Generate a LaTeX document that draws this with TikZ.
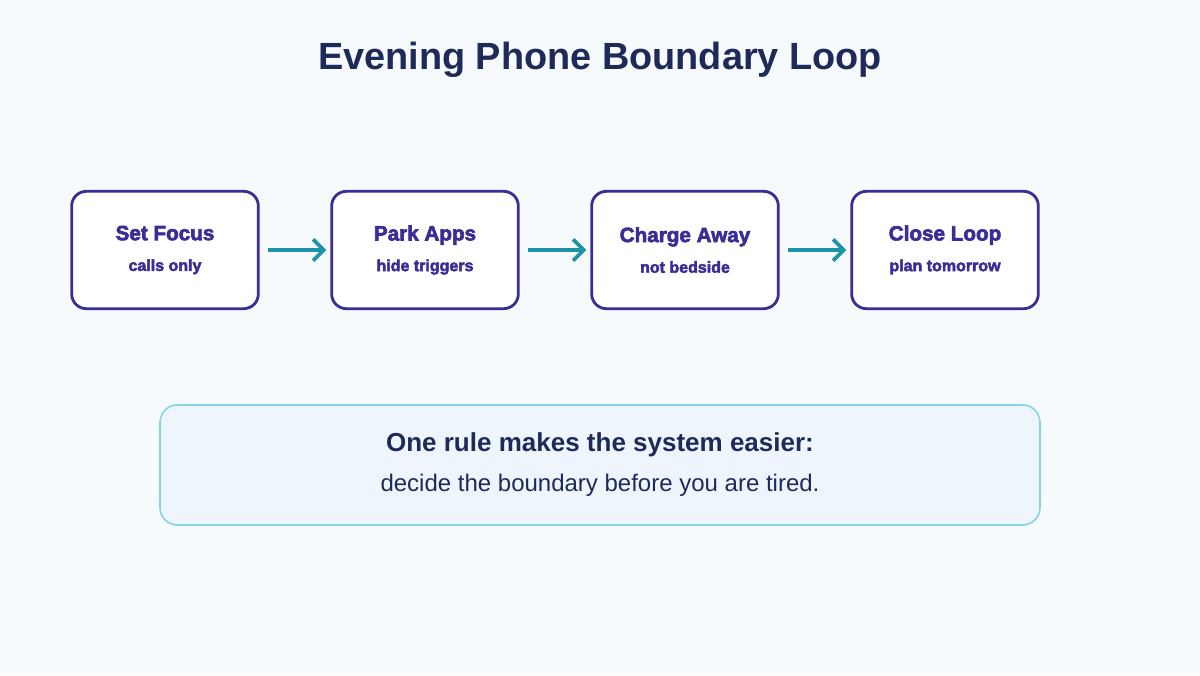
\documentclass[tikz,border=0pt]{standalone}
\usepackage{fontspec}
\setmainfont{Liberation Sans}
\newfontfamily\heavy{Liberation Sans}[BoldFeatures={FakeBold=3}]
\usetikzlibrary{arrows.meta}
\definecolor{bg}{HTML}{F6FAFD}
\definecolor{ttl}{HTML}{1E2A5A}
\definecolor{ind}{HTML}{3A2E96}
\definecolor{teal}{HTML}{1C93A6}
\definecolor{nfill}{HTML}{EEF5FD}
\definecolor{nbord}{HTML}{86D4E3}
\begin{document}
\begin{tikzpicture}[x=0.75pt,y=-0.75pt,
  stepbox/.style={draw=ind,line width=2.1pt,fill=white,rounded corners=11pt,minimum width=140pt,minimum height=88pt,align=center,text=ind,font=\heavy\bfseries\fontsize{15.5}{18}\selectfont},
  arr/.style={draw=teal,line width=2.7pt,-{Straight Barb[length=8pt,width=16pt,line width=2.7pt]}}]
\fill[bg] (0,0) rectangle (1200,675);
\useasboundingbox (0,0) rectangle (1200,675);
\node[text=ttl,font=\bfseries\fontsize{28.4}{32}\selectfont] (t) at (600,60) {Evening Phone Boundary Loop};
\node[stepbox] (a) at (165,250) {Set Focus\\[5pt]{\fontsize{12}{14}\selectfont calls only}};
\node[stepbox] (b) at (425,250) {Park Apps\\[5pt]{\fontsize{12}{14}\selectfont hide triggers}};
\node[stepbox] (c) at (685,250) {Charge Away\\[5pt]{\fontsize{12}{14}\selectfont not bedside}};
\node[stepbox] (d) at (945,250) {Close Loop\\[5pt]{\fontsize{12}{14}\selectfont plan tomorrow}};
\draw[arr] ([xshift=6pt]a.east) -- ([xshift=-3pt]b.west);
\draw[arr] ([xshift=6pt]b.east) -- ([xshift=-3pt]c.west);
\draw[arr] ([xshift=6pt]c.east) -- ([xshift=-3pt]d.west);
\node[draw=nbord,line width=1.2pt,fill=nfill,rounded corners=13pt,minimum width=660pt,minimum height=90pt,align=center,text=ttl] (n) at (600,465)
 {{\bfseries\fontsize{19.5}{22}\selectfont One rule makes the system easier:}\\[12pt]{\fontsize{18}{21}\selectfont decide the boundary before you are tired.}};
\end{tikzpicture}
\end{document}
